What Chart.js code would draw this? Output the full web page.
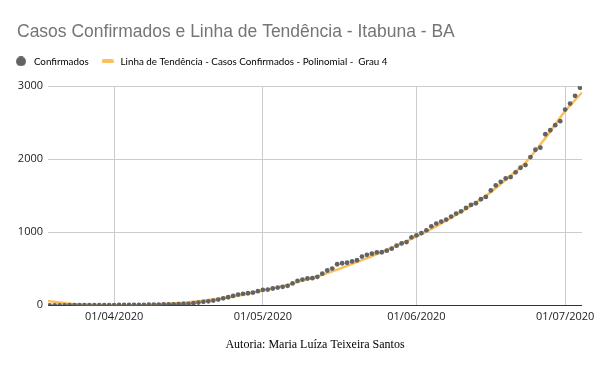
<!DOCTYPE html>
<html>
<head>
<meta charset="utf-8">
<script src="https://cdn.jsdelivr.net/npm/chart.js@4.4.1/dist/chart.umd.min.js"></script>
<style>
  html, body { margin: 0; padding: 0; background: #fff; }
</style>
</head>
<body>
<canvas id="canvas" width="600" height="371"></canvas>
<script>
const canvas = document.getElementById('canvas');

const titleText = 'Casos Confirmados e Linha de Tendência - Itabuna - BA';
const footerText = 'Autoria: Maria Luíza Teixeira Santos';
const seriesNames = ['Confirmados', 'Linha de Tendência - Casos Confirmados - Polinomial -  Grau 4'];

// day 0 = 19/03/2020, one point per day
const confirmados = [
  0, 0, 0, 0, 1, 1, 1, 1, 2, 2, 2, 3, 3,
  3, 4, 4, 5, 5, 6, 7, 8, 9, 10, 11, 12, 14, 16,
  19, 19, 28, 37, 47, 55, 65, 78, 96, 110, 129, 147, 157, 165, 175, 193, 212, 216, 230, 243, 253, 267,
  300,
  335, 353, 367, 372, 390, 433, 477, 503, 562, 576, 583, 601, 617, 667, 691, 707, 724,
  727, 748, 776,
  817, 848, 866,
  931, 958, 990, 1027,
  1082, 1119, 1147, 1174, 1215, 1257, 1288, 1334, 1375, 1398, 1453, 1485,
  1573, 1642, 1691, 1738, 1756, 1821, 1884, 1921,
  2031, 2131, 2159, 2343, 2398, 2467, 2522, 2681, 2764, 2870, 2980
];

// trend line (day, value)
const trendDays = [-0.35, 4, 8, 12, 16, 20, 24, 28, 32, 36, 40, 44, 48, 52, 56, 60, 64, 68, 72, 76, 80, 84, 88, 92, 96, 100, 104, 107.4];
const trendValues = [58, 22, 3, -5, -4, 5, 20, 42, 72, 110, 158, 215, 280, 355, 440, 540, 645, 760, 880, 1010, 1160, 1320, 1500, 1720, 1955, 2290, 2660, 2915];

const monthTickDays = [13, 43, 74, 104];
const monthTickLabels = ['01/04/2020', '01/05/2020', '01/06/2020', '01/07/2020'];
const yTicks = [0, 1000, 2000, 3000];

const pointColor = '#636363';
const trendColor = '#fcbf5c';

function swatch(w, h, color, round) {
  const c = document.createElement('canvas');
  c.width = w;
  c.height = h;
  const g = c.getContext('2d');
  g.fillStyle = color;
  g.beginPath();
  if (round) g.arc(w / 2, h / 2, w / 2, 0, Math.PI * 2);
  else g.roundRect(0, 0, w, h, 1.5);
  g.fill();
  return c;
}

// title and footer text, plus extra room under the legend
const textPlugin = {
  id: 'textPlugin',
  beforeInit(chart) {
    const fit = chart.legend.fit;
    chart.legend.fit = function () {
      fit.call(this);
      this.height += 10;
    };
  },
  afterDraw(chart) {
    const c = chart.ctx;
    c.save();
    c.textBaseline = 'middle';
    c.font = '17.5px "Liberation Sans", Arial, sans-serif';
    c.fillStyle = '#757575';
    c.textAlign = 'left';
    c.fillText(titleText, 17, 32);
    c.font = '12px "Liberation Serif", "Times New Roman", serif';
    c.fillStyle = '#000';
    c.textAlign = 'center';
    c.fillText(footerText, 315, 345);
    c.restore();
  }
};

new Chart(canvas, {
  type: 'scatter',
  data: {
    datasets: [
      {
        label: seriesNames[0],
        data: confirmados.map((v, i) => ({ x: i, y: v })),
        backgroundColor: pointColor,
        borderColor: pointColor,
        pointRadius: 2.4,
        pointBorderWidth: 0,
        showLine: false,
        order: 1
      },
      {
        type: 'line',
        label: seriesNames[1],
        data: trendDays.map((d, i) => ({ x: d, y: trendValues[i] })),
        borderColor: trendColor,
        borderWidth: 2.5,
        pointRadius: 0,
        fill: false,
        cubicInterpolationMode: 'monotone',
        order: 2
      }
    ]
  },
  options: {
    responsive: false,
    animation: false,
    layout: { padding: { top: 45.5, left: 2, right: 18, bottom: 42.5 } },
    plugins: {
      title: { display: false },
      tooltip: { enabled: false },
      legend: {
        position: 'top',
        align: 'start',
        labels: {
          usePointStyle: true,
          pointStyleWidth: 16,
          padding: 11,
          color: '#222',
          font: { family: 'Lato, sans-serif', size: 9.8 },
          generateLabels() {
            return [
              { text: seriesNames[0], pointStyle: swatch(10, 10, pointColor, true), fillStyle: pointColor, strokeStyle: pointColor, lineWidth: 0, datasetIndex: 0 },
              { text: seriesNames[1], pointStyle: swatch(12, 4, trendColor, false), fillStyle: trendColor, strokeStyle: trendColor, lineWidth: 0, datasetIndex: 1 }
            ];
          }
        }
      }
    },
    scales: {
      x: {
        type: 'linear',
        min: -0.35,
        max: 107.4,
        border: { display: false },
        grid: { color: '#cccccc', drawTicks: false },
        afterBuildTicks(scale) {
          scale.ticks = monthTickDays.map(v => ({ value: v }));
        },
        ticks: {
          autoSkip: false,
          maxRotation: 0,
          padding: 5,
          color: '#222',
          font: { family: '"Open Sans", sans-serif', size: 11 },
          callback: (v, i) => monthTickLabels[i]
        }
      },
      y: {
        min: 0,
        max: 3000,
        border: { display: false },
        grid: {
          drawTicks: false,
          color: ctx => (ctx.tick && ctx.tick.value === 0 ? '#333333' : '#cccccc')
        },
        afterBuildTicks(scale) {
          scale.ticks = yTicks.map(v => ({ value: v }));
        },
        afterFit(scale) {
          scale.width = 46;
        },
        ticks: {
          padding: 5,
          color: '#222',
          font: { family: '"Open Sans", sans-serif', size: 11 },
          callback: v => String(v)
        }
      }
    }
  },
  plugins: [textPlugin]
});
</script>
</body>
</html>
